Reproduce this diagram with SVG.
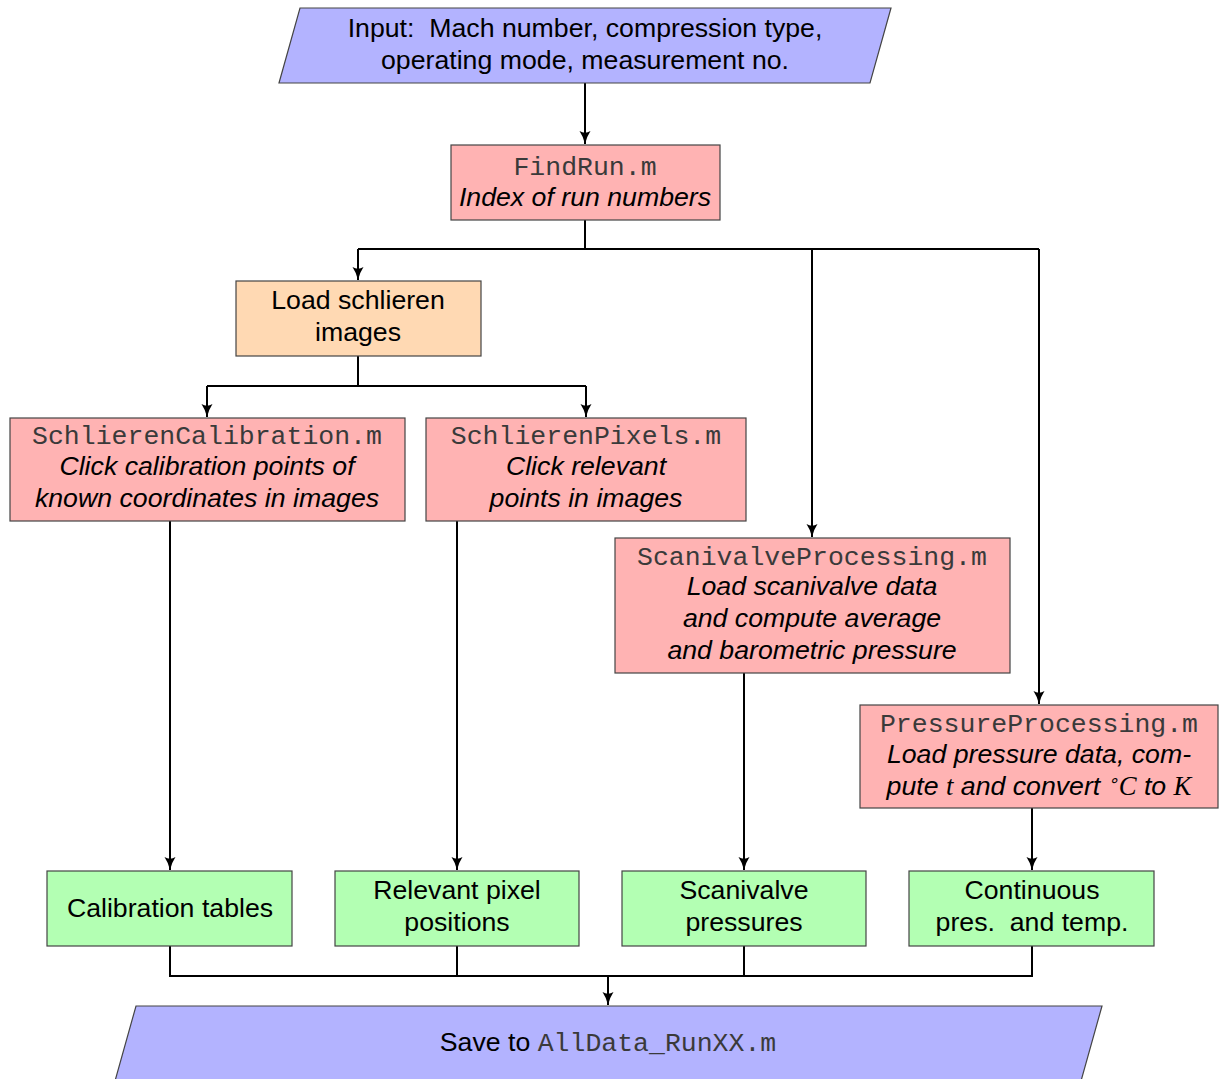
<svg xmlns="http://www.w3.org/2000/svg" width="1219" height="1079" viewBox="0 0 1219 1079">
<style>
  .t{font-family:"Liberation Sans",Arial,sans-serif;font-size:26.7px;fill:#000;text-anchor:middle}
  .i{font-style:italic}
  .m{font-family:"Liberation Mono","Courier New",monospace;font-size:26.5px;fill:#3a3a3a}
  .mv{font-family:"Liberation Serif","Times New Roman",serif;font-style:italic}
  .box{stroke:#444;stroke-width:1.2}
  .red{fill:#ffb3b3}
  .org{fill:#ffd9b3}
  .grn{fill:#b3ffb3}
  .blu{fill:#b3b3ff}
  .c{fill:none;stroke:#000;stroke-width:2}
</style>
<defs>
  <marker id="ar" viewBox="0 0 14 14" refX="13" refY="7" markerWidth="14" markerHeight="14" markerUnits="userSpaceOnUse" orient="auto">
    <path d="M0,1.5 Q6,5.5 13,7 Q6,8.5 0,12.5 Q3.5,7 0,1.5 Z" fill="#000"/>
  </marker>
</defs>
<rect width="1219" height="1079" fill="#fff"/>

<g id="connectors">
  <path class="c" d="M585,83 V144" marker-end="url(#ar)"/>
  <path class="c" d="M585,220 V249 M358,249 H1039"/>
  <path class="c" d="M358,249 V280" marker-end="url(#ar)"/>
  <path class="c" d="M812,249 V537" marker-end="url(#ar)"/>
  <path class="c" d="M1039,249 V704" marker-end="url(#ar)"/>
  <path class="c" d="M358,356 V386 M207,386 H586"/>
  <path class="c" d="M207,386 V417" marker-end="url(#ar)"/>
  <path class="c" d="M586,386 V417" marker-end="url(#ar)"/>
  <path class="c" d="M170,521 V870" marker-end="url(#ar)"/>
  <path class="c" d="M457,521 V870" marker-end="url(#ar)"/>
  <path class="c" d="M744,673 V870" marker-end="url(#ar)"/>
  <path class="c" d="M1032,808 V870" marker-end="url(#ar)"/>
  <path class="c" d="M170,946 V976 H1032 V946 M457,946 V976 M744,946 V976"/>
  <path class="c" d="M608,976 V1005" marker-end="url(#ar)"/>
</g>

<g id="input">
  <polygon class="box blu" points="300,8 891,8 870,83 279,83"/>
  <text class="t" x="585" y="37" xml:space="preserve">Input:  Mach number, compression type,</text>
  <text class="t" x="585" y="69">operating mode, measurement no.</text>
</g>

<g id="findrun">
  <rect class="box red" x="451" y="145" width="269" height="75"/>
  <text class="t" x="585" y="175"><tspan class="m">FindRun.m</tspan></text>
  <text class="t i" x="585" y="206">Index of run numbers</text>
</g>

<g id="loadschlieren">
  <rect class="box org" x="236" y="281" width="245" height="75"/>
  <text class="t" x="358" y="309">Load schlieren</text>
  <text class="t" x="358" y="341">images</text>
</g>

<g id="schlierencalibration">
  <rect class="box red" x="10" y="418" width="395" height="103"/>
  <text class="t" x="207" y="444"><tspan class="m">SchlierenCalibration.m</tspan></text>
  <text class="t i" x="207" y="475">Click calibration points of</text>
  <text class="t i" x="207" y="507">known coordinates in images</text>
</g>

<g id="schlierenpixels">
  <rect class="box red" x="426" y="418" width="320" height="103"/>
  <text class="t" x="586" y="444"><tspan class="m">SchlierenPixels.m</tspan></text>
  <text class="t i" x="586" y="475">Click relevant</text>
  <text class="t i" x="586" y="507">points in images</text>
</g>

<g id="scanivalveprocessing">
  <rect class="box red" x="615" y="538" width="395" height="135"/>
  <text class="t" x="812" y="565"><tspan class="m">ScanivalveProcessing.m</tspan></text>
  <text class="t i" x="812" y="595">Load scanivalve data</text>
  <text class="t i" x="812" y="627">and compute average</text>
  <text class="t i" x="812" y="659">and barometric pressure</text>
</g>

<g id="pressureprocessing">
  <rect class="box red" x="860" y="705" width="358" height="103"/>
  <text class="t" x="1039" y="732"><tspan class="m">PressureProcessing.m</tspan></text>
  <text class="t i" x="1039" y="763">Load pressure data, com-</text>
  <text class="t i" x="1039" y="795" xml:space="preserve">pute <tspan class="mv">t</tspan> and convert <tspan font-size="17" dy="-9">∘</tspan><tspan class="mv" dy="9">C</tspan> to <tspan class="mv">K</tspan></text>
</g>

<g id="calibrationtables">
  <rect class="box grn" x="47" y="871" width="245" height="75"/>
  <text class="t" x="170" y="917">Calibration tables</text>
</g>

<g id="relevantpixel">
  <rect class="box grn" x="335" y="871" width="244" height="75"/>
  <text class="t" x="457" y="899">Relevant pixel</text>
  <text class="t" x="457" y="931">positions</text>
</g>

<g id="scanivalvepressures">
  <rect class="box grn" x="622" y="871" width="244" height="75"/>
  <text class="t" x="744" y="899">Scanivalve</text>
  <text class="t" x="744" y="931">pressures</text>
</g>

<g id="continuous">
  <rect class="box grn" x="909" y="871" width="245" height="75"/>
  <text class="t" x="1032" y="899" >Continuous</text>
  <text class="t" x="1032" y="931" xml:space="preserve">pres.  and temp.</text>
</g>

<g id="save">
  <polygon class="box blu" points="136,1006 1102,1006 1081,1081 115,1081"/>
  <text class="t" x="608" y="1051">Save to <tspan class="m">AllData_RunXX.m</tspan></text>
</g>
</svg>
